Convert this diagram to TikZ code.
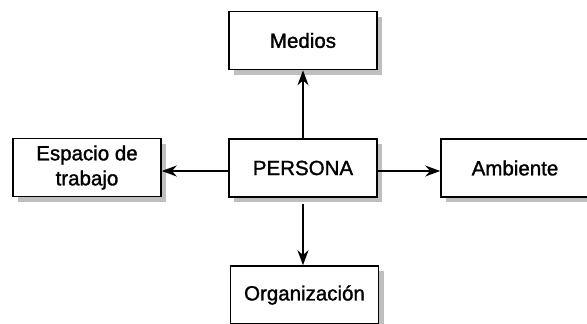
\documentclass[tikz,border=0pt]{standalone}
\usepackage{fontspec}
\setmainfont[FakeBold=1.4]{Liberation Sans}
\usetikzlibrary{arrows.meta,shadows}
\begin{document}
\begin{tikzpicture}[x=1pt,y=-1pt,
  box/.style={draw=black, line width=1.6pt, fill=white, minimum width=148pt, minimum height=58pt,
    align=center, inner sep=2pt, font=\fontsize{20.5}{25}\selectfont,
    drop shadow={shadow xshift=5pt, shadow yshift=-5pt, fill=gray!50, opacity=1}},
  conn/.style={line width=1.8pt, -{Stealth[length=15pt,width=11pt]}}]
\useasboundingbox (0,0) rectangle (587,324);
\node[box] (m) at (303,40.5) {Medios};
\node[box] (p) at (303,168) {PERSONA};
\node[box] (e) at (87,167.5) {Espacio de\\trabajo};
\node[box] (a) at (515,168) {Ambiente};
\node[box] (o) at (304.5,295) {Organización};
\draw[conn] (p) -- (m);
\draw[conn] ([yshift=-3pt]p.west) -- ([yshift=-3pt]p.west -| e.east);
\draw[conn] ([yshift=-3pt]p.east) -- ([yshift=-3pt]p.east -| a.west);
\draw[conn, shorten <=6pt] (p.south) -- (p.south |- o.north);
\end{tikzpicture}
\end{document}
